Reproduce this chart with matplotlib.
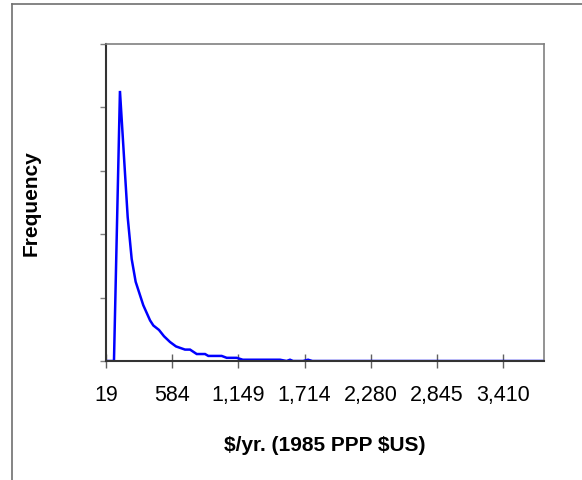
import matplotlib
matplotlib.use("Agg")
import matplotlib.pyplot as plt
from matplotlib.lines import Line2D

# income ($/yr, 1985 PPP $US) and relative frequency
income = [19, 87, 138, 204, 238, 272, 337, 395, 423, 471, 514, 565, 616, 693,
          736, 793, 864, 892, 1006, 1049, 1134, 1186, 1504, 1560, 1589, 1615,
          1700, 1743, 1780, 3756]
freq = [0, 0, 4.26, 2.27, 1.61, 1.25, 0.88, 0.64, 0.56, 0.49, 0.39, 0.30,
        0.23, 0.18, 0.18, 0.11, 0.11, 0.08, 0.08, 0.05, 0.05, 0.02, 0.02,
        0.0, 0.02, 0.0, 0.0, 0.02, 0.0, 0.0]

tick_vals = [19, 584, 1149, 1714, 2279, 2844, 3409]
tick_labels = ['19', '584', '1,149', '1,714', '2,280', '2,845', '3,410']

plt.rcParams['font.family'] = ['Liberation Sans', 'DejaVu Sans']

W, H = 582, 481
fig = plt.figure(figsize=(W / 100, H / 100), dpi=100)

# outer chart border (only top and left visible)
fig.add_artist(Line2D([11.7 / W, 1], [1 - 4.7 / H, 1 - 4.7 / H], color='#707070', lw=1.2))
fig.add_artist(Line2D([11.7 / W, 11.7 / W], [0, 1 - 4.7 / H], color='#707070', lw=1.2))

ax = fig.add_axes([106 / W, (H - 362) / H, (544 - 106) / W, (362 - 45) / H])
ax.plot(income, freq, color='#0000ff', lw=1.8, solid_joinstyle='miter')

ax.set_xlim(19, 3756)
ax.set_ylim(0, 5)
ax.set_xticks(tick_vals)
ax.set_xticklabels(tick_labels, fontsize=15.5)
ax.set_yticks([0, 1, 2, 3, 4, 5])
ax.set_yticklabels([])

ax.tick_params(axis='x', direction='inout', length=9.5, width=1, color='#606060', pad=11.5)
ax.tick_params(axis='y', direction='out', length=4.5, width=1, color='#808080')

for s in ['left', 'bottom']:
    ax.spines[s].set_color('#333333')
    ax.spines[s].set_linewidth(1.5)
for s in ['top', 'right']:
    ax.spines[s].set_color('#808080')
    ax.spines[s].set_linewidth(1.2)

ax.set_xlabel(r'\$/yr. (1985 PPP \$US)', fontsize=15, fontweight='bold', labelpad=22)
fig.text(31 / W, 1 - 203 / H, 'Frequency', rotation=90, fontsize=15,
         fontweight='bold', ha='center', va='center')

fig.savefig('out.png', dpi=100)
